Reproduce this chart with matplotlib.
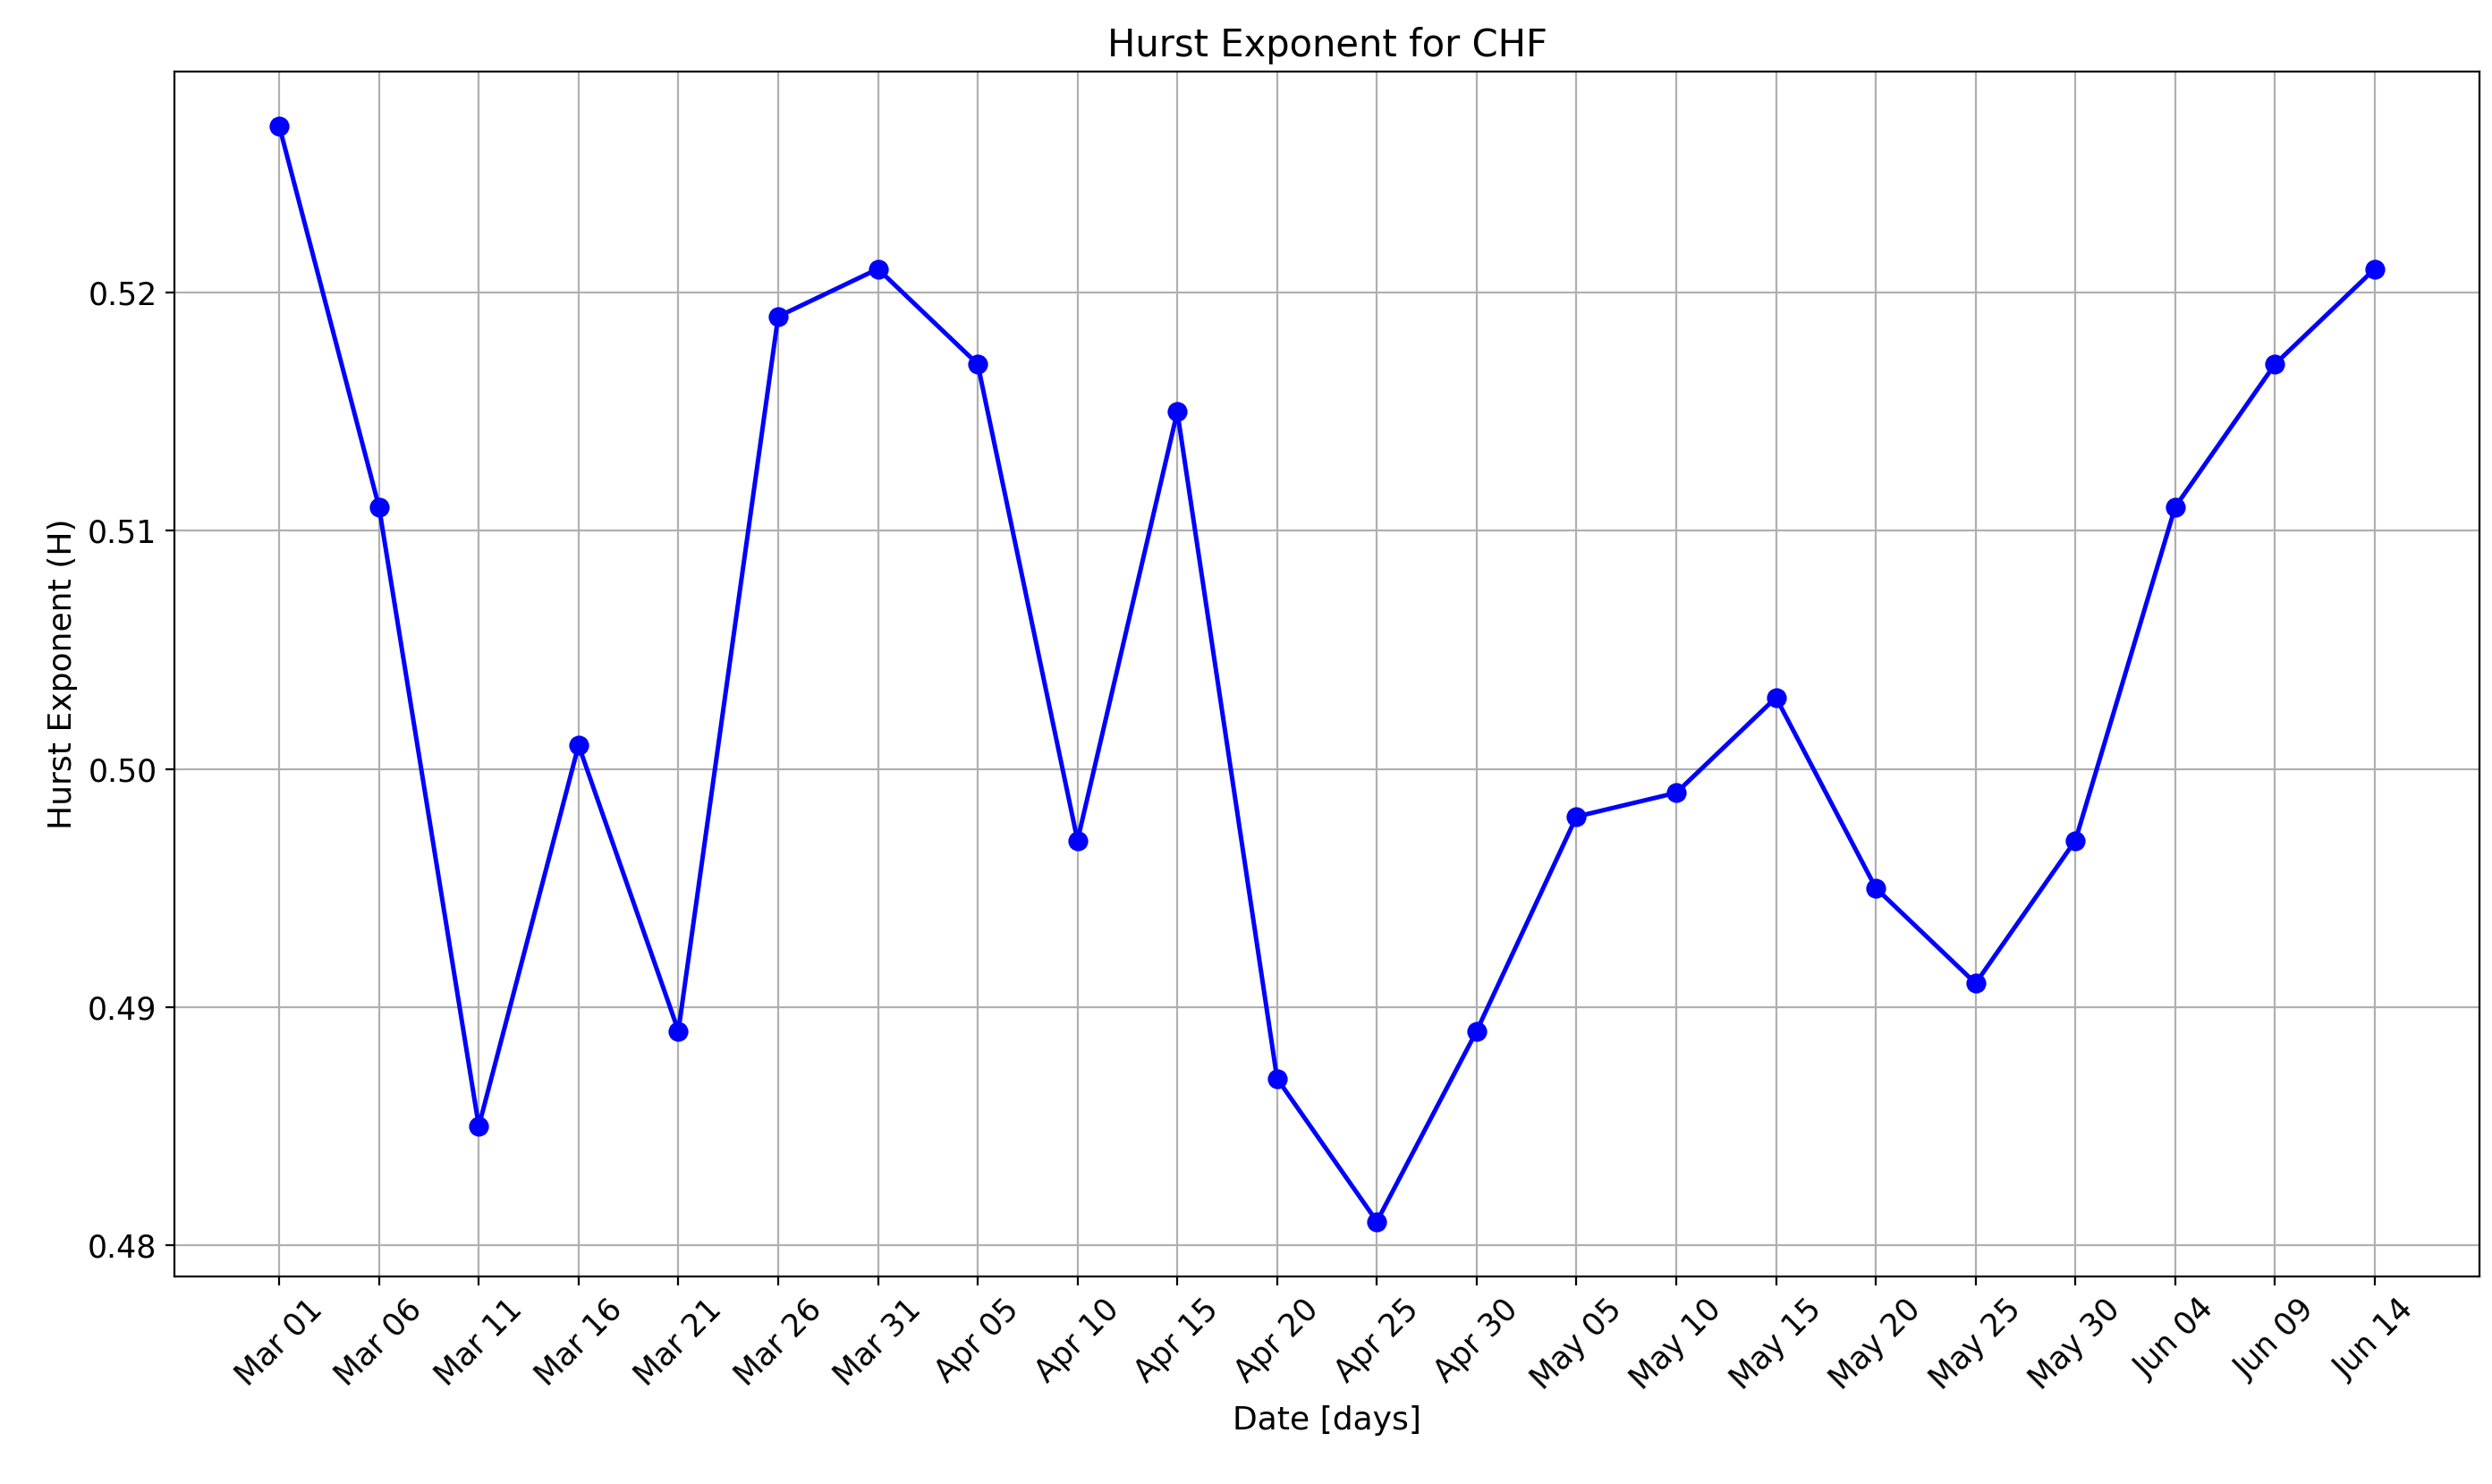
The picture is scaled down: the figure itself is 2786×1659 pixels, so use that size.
import matplotlib
matplotlib.use("Agg")
import matplotlib.pyplot as plt
import matplotlib.dates as mdates
import pandas as pd

# Hurst exponent values, one every 5 days
dates = pd.date_range("2023-03-01", periods=22, freq="5D")
hurst = [0.527, 0.511, 0.485, 0.501, 0.489, 0.519, 0.521, 0.517, 0.497, 0.515, 0.487,
         0.481, 0.489, 0.498, 0.499, 0.503, 0.495, 0.491, 0.497, 0.511, 0.517, 0.521]

fig, ax = plt.subplots(figsize=(13.93, 8.295), dpi=200)
fig.subplots_adjust(left=0.07, right=0.995, top=0.952, bottom=0.14)

ax.plot(dates, hurst, color="blue", marker="o", markersize=7, linewidth=1.8)
ax.set_xticks(dates)
ax.xaxis.set_major_formatter(mdates.DateFormatter("%b %d"))
plt.setp(ax.get_xticklabels(), rotation=45, ha="center", fontsize=12.5)
ax.tick_params(axis="y", labelsize=12.5)
ax.set_yticks([0.48, 0.49, 0.50, 0.51, 0.52])
ax.set_title("Hurst Exponent for CHF", fontsize=15)
ax.set_xlabel("Date [days]", fontsize=13)
ax.set_ylabel("Hurst Exponent (H)", fontsize=13)
ax.grid(True)

fig.savefig("out.png")
